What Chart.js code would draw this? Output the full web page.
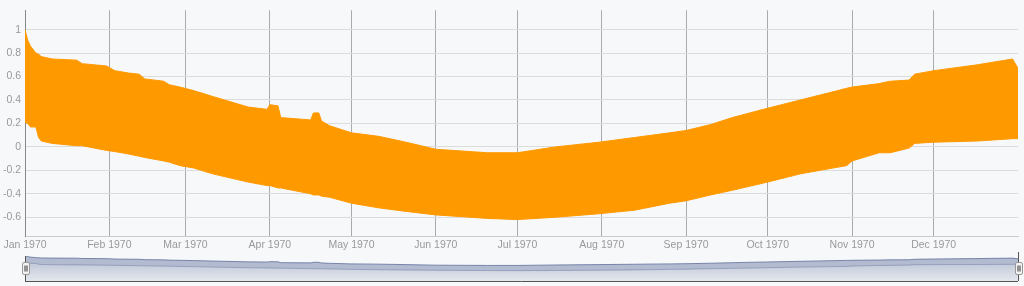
<!DOCTYPE html>
<html>
<head>
<meta charset="utf-8">
<script src="https://cdn.jsdelivr.net/npm/chart.js@4.4.0/dist/chart.umd.min.js"></script>
<style>
  html, body { margin: 0; padding: 0; background: #f7f8fa; }
  #main { position: absolute; left: 0; top: 0; width: 1024px; height: 254px; }
  #nav { position: absolute; left: 0; top: 250px; width: 1024px; height: 36px; }
</style>
</head>
<body>
<div id="main"><canvas id="mainChart"></canvas></div>
<div id="nav"><canvas id="navChart"></canvas></div>
<script>
// month starts (day of year) and their labels
const monthDays = [0, 31, 59, 90, 120, 151, 181, 212, 243, 273, 304, 334];
const monthLabels = ['Jan 1970', 'Feb 1970', 'Mar 1970', 'Apr 1970', 'May 1970', 'Jun 1970',
    'Jul 1970', 'Aug 1970', 'Sep 1970', 'Oct 1970', 'Nov 1970', 'Dec 1970'];
const yTicks = [-0.6, -0.4, -0.2, 0, 0.2, 0.4, 0.6, 0.8, 1];

// day of year, top and bottom of the daily swing
const days = [0, 1, 2, 4, 5, 6, 10, 19, 21, 30, 33, 38, 42, 44, 51, 53, 57, 62, 69, 82,
    89, 90, 93, 94, 105, 106, 108, 109, 112, 120, 130, 140, 151, 170, 181, 195, 211, 224,
    237, 243, 252, 260, 273, 285, 297, 302, 304, 314, 318, 325, 327, 334, 350, 363, 365];
const upper = [1.0, 0.91, 0.86, 0.80, 0.79, 0.77, 0.75, 0.74, 0.71, 0.69, 0.65, 0.63, 0.62, 0.58, 0.56, 0.53, 0.51, 0.48, 0.43, 0.34,
    0.32, 0.36, 0.35, 0.25, 0.23, 0.29, 0.29, 0.22, 0.18, 0.12, 0.09, 0.04, -0.02, -0.05, -0.05, 0.00, 0.04, 0.08,
    0.12, 0.14, 0.19, 0.25, 0.33, 0.40, 0.47, 0.50, 0.51, 0.54, 0.56, 0.57, 0.62, 0.65, 0.70, 0.75, 0.67];
const lower = [0.21, 0.20, 0.17, 0.17, 0.08, 0.05, 0.03, 0.01, 0.01, -0.03, -0.04, -0.06, -0.08, -0.09, -0.12, -0.13, -0.16, -0.18, -0.23, -0.30,
    -0.33, -0.33, -0.35, -0.35, -0.40, -0.41, -0.41, -0.42, -0.43, -0.48, -0.52, -0.55, -0.58, -0.61, -0.62, -0.60, -0.57, -0.54,
    -0.48, -0.46, -0.41, -0.37, -0.30, -0.23, -0.18, -0.16, -0.12, -0.05, -0.05, -0.01, 0.03, 0.04, 0.05, 0.07, 0.07];

const upperPts = days.map((d, i) => ({ x: d, y: upper[i] }));
const lowerPts = days.map((d, i) => ({ x: d, y: lower[i] }));

const labelFont = { family: 'Liberation Sans, Arial, sans-serif', size: 10.5 };

new Chart(document.getElementById('mainChart'), {
    type: 'line',
    data: {
        datasets: [{
            data: upperPts,
            borderColor: '#ff9900',
            backgroundColor: '#ff9900',
            borderWidth: 1,
            pointRadius: 0,
            tension: 0,
            fill: '+1'
        }, {
            data: lowerPts,
            borderColor: '#ff9900',
            borderWidth: 1,
            pointRadius: 0,
            tension: 0,
            fill: false
        }]
    },
    options: {
        responsive: true,
        maintainAspectRatio: false,
        animation: false,
        layout: { padding: { top: 8, right: 6, left: 0, bottom: 0 } },
        plugins: { legend: { display: false }, tooltip: { enabled: false } },
        scales: {
            x: {
                type: 'linear',
                min: 0,
                max: 365,
                afterBuildTicks: s => { s.ticks = monthDays.map(v => ({ value: v })); },
                afterFit: s => { s.height = 18; },
                grid: { color: '#aaaaaa', drawTicks: false },
                border: { color: '#cccccc' },
                ticks: {
                    padding: 3,
                    color: '#999999',
                    font: labelFont,
                    maxRotation: 0,
                    autoSkip: false,
                    callback: (v, i) => monthLabels[i]
                }
            },
            y: {
                min: -0.76,
                max: 1.165,
                afterBuildTicks: s => { s.ticks = yTicks.map(v => ({ value: v })); },
                afterFit: s => { s.width = 25; },
                grid: { color: '#dcdcdc', drawTicks: false },
                border: { color: '#888888' },
                ticks: {
                    padding: 4,
                    color: '#999999',
                    font: labelFont,
                    callback: v => String(v)
                }
            }
        }
    }
});

// navigator strip under the chart
const navDecor = {
    id: 'navDecor',
    afterDraw(chart) {
        const { ctx, chartArea: a } = chart;
        ctx.save();
        ctx.strokeStyle = '#555';
        ctx.lineWidth = 1;
        ctx.beginPath();
        ctx.moveTo(a.left, a.bottom + 0.5);
        ctx.lineTo(a.right, a.bottom + 0.5);
        ctx.moveTo(Math.round(a.left) + 0.5, a.top);
        ctx.lineTo(Math.round(a.left) + 0.5, a.bottom);
        ctx.moveTo(Math.round(a.right) + 0.5, a.top - 4);
        ctx.lineTo(Math.round(a.right) + 0.5, a.bottom);
        ctx.stroke();
        [a.left, a.right].forEach(x => {
            const hx = Math.round(x) - 3 + 0.5;
            const hy = a.top + 6.5;
            ctx.fillStyle = '#f2f2f2';
            ctx.strokeStyle = '#999';
            ctx.beginPath();
            ctx.roundRect(hx, hy, 7, 12, 1.5);
            ctx.fill();
            ctx.stroke();
            ctx.strokeStyle = '#333';
            ctx.beginPath();
            ctx.moveTo(hx + 2.5, hy + 3);
            ctx.lineTo(hx + 2.5, hy + 9);
            ctx.moveTo(hx + 4.5, hy + 3);
            ctx.lineTo(hx + 4.5, hy + 9);
            ctx.stroke();
        });
        ctx.restore();
    }
};

new Chart(document.getElementById('navChart'), {
    type: 'line',
    data: {
        datasets: [{
            data: upperPts,
            borderColor: 'rgba(96,112,155,0.8)',
            backgroundColor: 'rgba(110,125,165,0.5)',
            borderWidth: 1,
            pointRadius: 0,
            fill: '+1'
        }, {
            data: lowerPts,
            borderColor: 'rgba(104,120,160,0.5)',
            borderWidth: 1,
            pointRadius: 0,
            fill: 'start',
            backgroundColor: ctx => {
                const area = ctx.chart.chartArea;
                if (!area) return '#c4cbda';
                const g = ctx.chart.ctx.createLinearGradient(0, area.top, 0, area.bottom);
                g.addColorStop(0, '#b4bdd0');
                g.addColorStop(1, '#e4e7ee');
                return g;
            }
        }]
    },
    options: {
        responsive: true,
        maintainAspectRatio: false,
        animation: false,
        layout: { padding: { left: 25, right: 6, top: 6, bottom: 5 } },
        plugins: { legend: { display: false }, tooltip: { enabled: false } },
        scales: {
            x: { type: 'linear', min: 0, max: 365, display: false },
            y: { min: -1.75, max: 0.98, display: false }
        }
    },
    plugins: [navDecor]
});
</script>
</body>
</html>
